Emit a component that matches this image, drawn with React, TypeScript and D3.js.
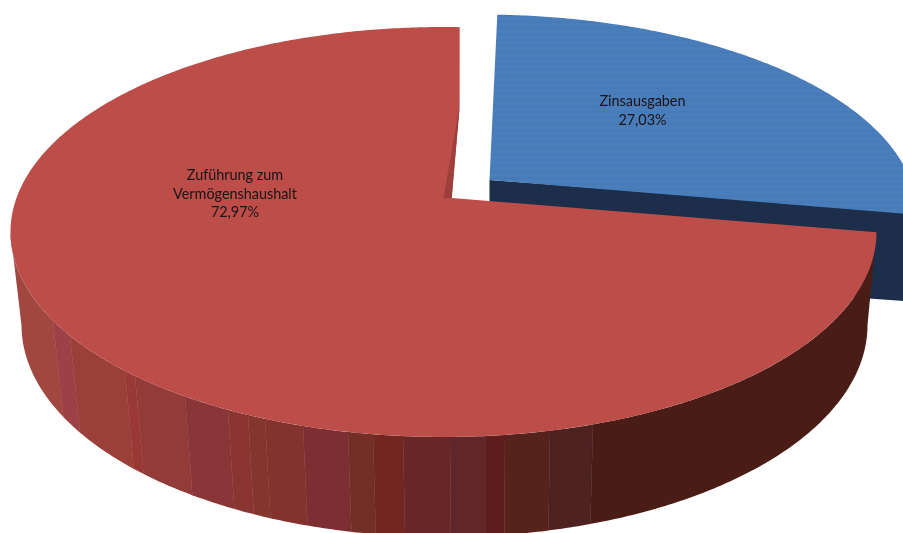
import React from "react";
import * as d3 from "d3";

const categories = ["Zuführung zum Vermögenshaushalt", "Zinsausgaben"];
const values = [72.97, 27.03];
const labelLines = [["Zuführung zum", "Vermögenshaushalt", "72,97%"], ["Zinsausgaben", "27,03%"]];

const W = 903, H = 533;
const RED = "#bc4d4a", BLUE = "#4a7ebb", BLUE_DARK = "#1a2e48", SLIVER = "#9d3f3b";
const START = (99.85 * Math.PI) / 180;
const TILT = -0.17;

// wall shading bands: right end along the rim (px) and colour
const bandEnds = [53, 70, 125, 135, 185, 228, 248, 265, 303, 348, 373, 403, 450, 487, 505, 550, 593, 920];
const bandColors = ["#a04641", "#9d3f47", "#9a4038", "#993834", "#923a37", "#8a3539", "#8a3530", "#84352f", "#83312e", "#7d2f31", "#732e26", "#712724", "#682826", "#612729", "#5e1f1c", "#56231f", "#502022", "#4a1f18"];

type E = { cx: number; cy: number; rx: number; ry: number };
const redTop: E = { cx: 443.5, cy: 232, rx: 433, ry: 205 };
const redBottom: E = { cx: 444.5, cy: 325, rx: 423, ry: 212 };
const blueTop: E = { cx: 481, cy: 214.5, rx: 436, ry: 200 };

// angle on the pie (clockwise from 12 o'clock) to a point on the projected rim
function rim(e: E, angle: number): [number, number] {
  const u = Math.sin(angle), v = -Math.cos(angle);
  const w = 1 + TILT * v;
  return [e.cx + (e.rx * u * Math.sqrt(1 - TILT * TILT)) / w, e.cy + (e.ry * (v + TILT)) / w];
}
const arcPoints = (e: E, a0: number, a1: number) => {
  const n = Math.ceil(Math.abs(a1 - a0) / 0.01);
  return d3.range(n + 1).map((i) => rim(e, a0 + ((a1 - a0) * i) / n));
};
const line = d3.line<[number, number]>().x((d) => d[0]).y((d) => d[1]);
const ell = (e: E, t: number): [number, number] => [e.cx + e.rx * Math.cos(t), e.cy + e.ry * Math.sin(t)];

export default function App() {
  const pie = d3.pie<number>().sort(null).startAngle(START).endAngle(START + 2 * Math.PI);
  const [redArc, blueArc] = pie(values);

  const redRim = arcPoints(redTop, redArc.startAngle, redArc.endAngle);
  const blueRim = arcPoints(blueTop, blueArc.startAngle, blueArc.endAngle);
  const redApex: [number, number] = [451.7, 198];
  const notch: [number, number] = [459.6, 107];
  const blueApex: [number, number] = [489.5, 180];

  const redPath = line([...redRim, notch, redApex])! + "Z";
  const bluePath = line([blueApex, ...blueRim])! + "Z";

  const ts = d3.range(0, Math.PI + 0.005, 0.01);
  const wallTop = ts.map((t) => ell(redTop, t));
  const wallBottom = ts.map((t) => ell(redBottom, t)).reverse();
  const wallPath = line([...wallTop, ...wallBottom])! + "Z";

  const xScale = d3.scaleLinear().domain([redTop.cx - redTop.rx, redTop.cx + redTop.rx]).range([-1, 1]);
  const edge = (x: number) => {
    const u = xScale(x);
    const y0 = redTop.cy + redTop.ry * Math.sqrt(Math.max(0, 1 - u * u));
    const dx = redBottom.cx + u * redBottom.rx - x;
    // carry the seam past both rims; the clip and the top face trim it
    return { top: [x - dx, y0 - 93] as [number, number], bottom: [x + dx * 1.6, y0 + 93 * 1.6] as [number, number] };
  };
  const bands = bandEnds.map((end, i) => {
    const a = edge(i === 0 ? -20 : bandEnds[i - 1]);
    const b = edge(end);
    return { d: line([a.top, b.top, b.bottom, a.bottom])! + "Z", fill: bandColors[i] };
  });

  const blueSlope = (211 - 180) / (903 - 489.5);
  const blueWall = line([
    blueApex,
    [925, 180 + blueSlope * (925 - 489.5)],
    [925, 301 + 0.0714 * 22],
    [489.5, 271.5],
  ])! + "Z";

  const textProps = { fontFamily: "Lato, 'Open Sans', sans-serif", fontSize: 14.4, fill: "#1a1214", textAnchor: "middle" as const };

  return (
    <svg width={W} height={H} viewBox={`0 0 ${W} ${H}`} style={{ position: "absolute", left: 0, top: 0, background: "#fff" }}>
      <defs>
        <clipPath id="wall"><path d={wallPath} /></clipPath>
        <pattern id="stripes" width="6" height="6" patternUnits="userSpaceOnUse">
          <rect width="6" height="6" fill={BLUE} />
          <rect y="3" width="6" height="2" fill="#477ab8" />
        </pattern>
        <filter id="soft" filterUnits="userSpaceOnUse" x={-30} y={-30} width={W + 60} height={H + 60}>
          <feGaussianBlur stdDeviation="0.45" />
        </filter>
      </defs>

      <g filter="url(#soft)">
        <path d={blueWall} fill={BLUE_DARK} />
        <path d={bluePath} fill="url(#stripes)" />

        <g clipPath="url(#wall)">
          {bands.map((b, i) => <path key={i} d={b.d} fill={b.fill} stroke={b.fill} strokeWidth={0.4} />)}
        </g>

        <path d={redPath} fill={RED} />
        <path d={line([[443.5, 198.5], redApex, notch, [458.4, 112]])! + "Z"} fill={SLIVER} />

        <g {...textProps} data-label={categories[0]}>
          {labelLines[0].map((l, i) => <text key={l} x={235} y={180 + i * 18.5}>{l}</text>)}
        </g>
        <g {...textProps} data-label={categories[1]}>
          {labelLines[1].map((l, i) => <text key={l} x={642.5} y={106 + i * 18.5}>{l}</text>)}
        </g>
      </g>
    </svg>
  );
}
